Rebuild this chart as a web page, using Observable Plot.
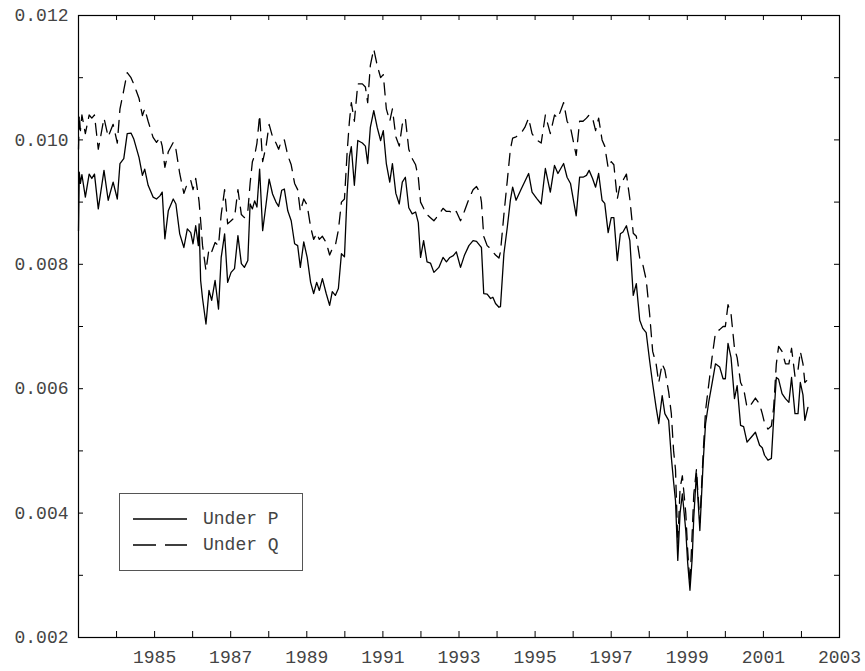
<!DOCTYPE html>
<html>
<head>
<meta charset="utf-8">
<script src="https://cdn.jsdelivr.net/npm/d3@7"></script>
<script src="https://cdn.jsdelivr.net/npm/@observablehq/plot@0.6"></script>
<style>
  html, body { margin: 0; padding: 0; background: #fff; }
  #wrap { position: relative; width: 865px; height: 671px; }
  #legend { position: absolute; left: 119px; top: 493px; width: 184px; height: 78px;
            border: 1px solid #555; background: #fff; box-sizing: border-box;
            font-family: "Liberation Mono", monospace; font-size: 18px; color: #444; }
  #legend .row { position: absolute; left: 13px; display: flex; align-items: center; }
  #legend svg { display: block; margin-right: 16px; }
</style>
</head>
<body>
<div id="wrap"></div>
<script>
// Decimal-year dates of the observations
const dates = [
  1983.00,1983.02,1983.05,1983.09,1983.18,1983.28,1983.35,1983.42,1983.52,1983.67,1983.78,1983.91,
  1984.02,1984.09,1984.19,1984.28,1984.38,1984.45,1984.59,1984.68,1984.74,1984.83,1984.96,
  1985.05,1985.14,1985.20,1985.27,1985.36,1985.49,1985.56,1985.66,1985.77,1985.86,1985.95,
  1986.01,1986.08,1986.15,1986.17,1986.21,1986.26,
  1986.35,1986.43,1986.50,1986.59,1986.68,1986.75,1986.84,1986.92,
  1987.01,1987.10,1987.19,1987.28,1987.36,1987.45,1987.51,1987.57,1987.63,1987.69,1987.76,1987.84,1987.93,
  1988.01,1988.10,1988.19,1988.26,1988.34,1988.41,1988.50,1988.59,1988.68,1988.76,1988.83,1988.92,
  1989.01,1989.10,1989.18,1989.26,1989.33,1989.41,
  1989.51,1989.60,1989.67,1989.75,1989.83,1989.91,1989.99,1990.06,1990.12,1990.17,
  1990.25,1990.34,1990.46,1990.54,1990.60,1990.67,1990.76,1990.85,1990.94,1991.01,
  1991.09,1991.18,1991.25,1991.34,1991.43,1991.51,1991.59,1991.68,1991.77,1991.86,
  1991.93,1991.99,1992.07,1992.16,1992.25,1992.34,1992.47,1992.58,1992.67,1992.76,
  1992.85,1992.93,1993.04,1993.14,1993.26,1993.37,1993.46,1993.55,1993.59,1993.65,
  1993.74,1993.83,1993.89,1993.96,1994.05,1994.09,1994.18,1994.27,1994.35,1994.41,
  1994.50,1994.62,1994.73,1994.83,1994.92,1995.04,1995.16,1995.27,1995.40,1995.51,
  1995.60,1995.75,1995.84,1995.93,1996.08,1996.17,1996.26,1996.35,1996.42,1996.51,
  1996.59,1996.67,1996.76,1996.83,1996.92,1997.00,1997.07,1997.16,1997.24,1997.31,
  1997.40,1997.49,1997.58,1997.66,1997.75,1997.83,1997.92,1998.01,1998.09,1998.18,
  1998.25,1998.34,1998.41,1998.51,1998.58,1998.64,1998.69,1998.75,1998.81,1998.87,
  1998.96,1999.01,1999.07,1999.13,1999.17,1999.24,1999.33,1999.42,1999.48,1999.57,
  1999.65,1999.74,1999.85,1999.94,2000.00,2000.07,2000.15,2000.24,2000.31,2000.40,
  2000.48,2000.57,2000.68,2000.79,2000.90,2000.97,2001.03,2001.12,2001.21,2001.27,
  2001.34,2001.40,2001.49,2001.58,2001.67,2001.74,2001.83,2001.91,2001.97,2002.04,
  2002.09,2002.17
];

// Series "Under P" (solid)
const underP = [
  .00854,.00948,.00930,.00944,.00908,.00945,.00938,.00945,.00889,.00951,.00903,.00932,
  .00905,.00962,.00970,.01010,.01011,.01002,.00972,.00943,.00953,.00927,.00908,
  .00905,.00910,.00916,.00841,.00886,.00905,.00897,.00849,.00827,.00857,.00851,
  .00833,.00862,.00830,.00865,.00774,.00745,
  .00704,.00758,.00742,.00774,.00728,.00811,.00849,.00771,
  .00787,.00793,.00846,.00801,.00795,.00806,.00897,.00889,.00902,.00892,.00953,.00854,.00897,
  .00937,.00913,.00900,.00893,.00919,.00921,.00886,.00870,.00833,.00830,.00795,.00836,
  .00811,.00771,.00753,.00771,.00758,.00777,
  .00753,.00734,.00756,.00750,.00761,.00817,.00812,.00914,.00973,.00989,
  .00927,.00999,.00995,.00990,.00962,.01020,.01047,.01020,.00999,.01015,
  .00962,.00932,.00962,.00914,.00897,.00932,.00940,.00891,.00881,.00884,
  .00867,.00811,.00838,.00804,.00802,.00787,.00795,.00811,.00804,.00811,
  .00814,.00820,.00795,.00814,.00830,.00838,.00837,.00830,.00827,.00753,
  .00752,.00745,.00747,.00737,.00731,.00732,.00817,.00860,.00903,.00924,
  .00903,.00919,.00933,.00946,.00916,.00906,.00897,.00954,.00916,.00959,
  .00946,.00962,.00940,.00930,.00878,.00940,.00940,.00943,.00951,.00938,
  .00924,.00946,.00903,.00898,.00851,.00875,.00875,.00806,.00849,.00852,
  .00862,.00838,.00750,.00769,.00710,.00697,.00690,.00645,.00608,.00570,
  .00544,.00589,.00560,.00549,.00490,.00450,.00420,.00324,.00400,.00431,
  .00372,.00320,.00276,.00329,.00393,.00464,.00372,.00485,.00544,.00581,
  .00608,.00640,.00635,.00616,.00616,.00673,.00650,.00584,.00605,.00541,
  .00539,.00514,.00522,.00530,.00509,.00505,.00493,.00485,.00488,.00552,
  .00618,.00615,.00592,.00584,.00578,.00618,.00560,.00560,.00610,.00590,
  .00549,.00570
];

// Series "Under Q" (dashed)
const underQ = [
  .00985,.01040,.01015,.01040,.01010,.01040,.01035,.01040,.00985,.01035,.01005,.01025,
  .00995,.01050,.01080,.01108,.01100,.01090,.01067,.01039,.01050,.01030,.01004,
  .00996,.01004,.00990,.00956,.00981,.00996,.00985,.00946,.00914,.00930,.00935,
  .00920,.00938,.00910,.00900,.00870,.00830,
  .00790,.00825,.00820,.00835,.00830,.00880,.00920,.00865,
  .00870,.00875,.00920,.00880,.00875,.00885,.00930,.00965,.00975,.00995,.01040,.00965,.00990,
  .01025,.01005,.00995,.00985,.01000,.01000,.00975,.00960,.00930,.00920,.00885,.00905,
  .00895,.00860,.00840,.00850,.00840,.00845,
  .00835,.00815,.00825,.00830,.00855,.00900,.00905,.00980,.01030,.01060,
  .01030,.01090,.01090,.01085,.01060,.01120,.01146,.01120,.01100,.01105,
  .01050,.01030,.01050,.01005,.00990,.01025,.01035,.00985,.00970,.00960,
  .00940,.00900,.00890,.00880,.00875,.00870,.00880,.00890,.00885,.00885,
  .00880,.00885,.00870,.00885,.00905,.00920,.00925,.00915,.00900,.00845,
  .00830,.00825,.00820,.00815,.00810,.00820,.00880,.00935,.00985,.01003,
  .01005,.01010,.01020,.01035,.01010,.01000,.00995,.01040,.01010,.01040,
  .01035,.01060,.01030,.01020,.00975,.01030,.01030,.01035,.01040,.01035,
  .01015,.01035,.01000,.00990,.00955,.00965,.00960,.00905,.00930,.00935,
  .00945,.00905,.00850,.00845,.00810,.00800,.00775,.00720,.00660,.00640,
  .00610,.00640,.00630,.00595,.00560,.00500,.00470,.00350,.00440,.00460,
  .00400,.00340,.00285,.00370,.00430,.00470,.00385,.00500,.00565,.00610,
  .00650,.00690,.00695,.00700,.00700,.00735,.00720,.00665,.00650,.00610,
  .00600,.00570,.00575,.00585,.00575,.00560,.00545,.00535,.00540,.00570,
  .00640,.00668,.00660,.00640,.00640,.00665,.00620,.00630,.00660,.00640,
  .00610,.00615
];

const xLabelYears = [1985, 1987, 1989, 1991, 1993, 1995, 1997, 1999, 2001, 2003];
const xTickYears = [1984,1985,1986,1987,1988,1989,1990,1991,1992,1993,1994,1995,1996,1997,1998,1999,2000,2001,2002];
const yLabels = [0.002, 0.004, 0.006, 0.008, 0.010, 0.012];
const yTicks = [0.003, 0.004, 0.005, 0.006, 0.007, 0.008, 0.009, 0.010, 0.011];
const seriesNames = ["Under P", "Under Q"];

const rows = dates.map((t, i) => ({t, p: underP[i], q: underQ[i]}));

const W = 865, H = 671, mL = 78, mR = 26, mT = 15, mB = 34;
const innerW = W - mL - mR, innerH = H - mT - mB;
const font = "Liberation Mono, DejaVu Sans Mono, monospace";

const chart = Plot.plot({
  width: W, height: H,
  marginLeft: mL, marginRight: mR, marginTop: mT, marginBottom: mB,
  style: {fontFamily: font, fontSize: "18px", background: "#fff", color: "#000"},
  x: {domain: [1983, 2003]},
  y: {domain: [0.002, 0.012]},
  marks: [
    Plot.frame({stroke: "#000", strokeWidth: 1.2}),
    // inward ticks: bottom and top
    Plot.tickX(xTickYears, {x: d => d, insetTop: innerH - 6, stroke: "#000", strokeWidth: 1}),
    Plot.tickX(xTickYears, {x: d => d, insetBottom: innerH - 5, stroke: "#000", strokeWidth: 1}),
    // inward ticks: left and right
    Plot.tickY(yTicks, {y: d => d, insetRight: innerW - 5, stroke: "#000", strokeWidth: 1}),
    Plot.tickY(yTicks, {y: d => d, insetLeft: innerW - 5, stroke: "#000", strokeWidth: 1}),
    Plot.axisX({ticks: xLabelYears, tickSize: 0, tickPadding: 13, tickFormat: d => String(d),
      label: null, fontSize: 18, fontFamily: font, fill: "#444"}),
    Plot.axisY({ticks: yLabels, tickSize: 0, tickPadding: 10, tickFormat: d3.format(".3f"),
      label: null, fontSize: 18, fontFamily: font, fill: "#444"}),
    Plot.line(rows, {x: "t", y: "q", stroke: "#000", strokeWidth: 1.3, strokeDasharray: "12,8"}),
    Plot.line(rows, {x: "t", y: "p", stroke: "#000", strokeWidth: 1.3})
  ]
});

const wrap = document.getElementById("wrap");
wrap.appendChild(chart);

const legend = document.createElement("div");
legend.id = "legend";
seriesNames.forEach((name, i) => {
  const row = document.createElement("div");
  row.className = "row";
  row.style.top = (i === 0 ? 15 : 41) + "px";
  const dash = i === 0 ? "" : ' stroke-dasharray="23,9"';
  row.innerHTML = `<svg width="54" height="10"><line x1="0" y1="5" x2="54" y2="5" stroke="#000" stroke-width="1.3"${dash}/></svg><span>${name}</span>`;
  legend.appendChild(row);
});
wrap.appendChild(legend);
</script>
</body>
</html>
